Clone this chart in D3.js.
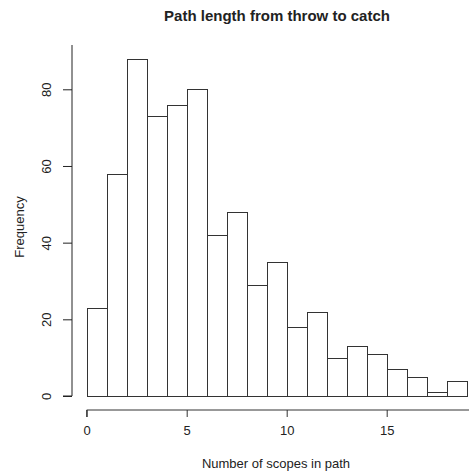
<!DOCTYPE html>
<html>
<head>
<meta charset="utf-8">
<script src="https://cdn.jsdelivr.net/npm/d3@7"></script>
<style>
body { margin: 0; background: #fff; }
text { font-family: "Liberation Sans", Arial, sans-serif; fill: #222; }
</style>
</head>
<body>
<svg></svg>
<script>
var binStarts = [0, 1, 2, 3, 4, 5, 6, 7, 8, 9, 10, 11, 12, 13, 14, 15, 16, 17, 18];
var counts = [23, 58, 88, 73, 76, 80, 42, 48, 29, 35, 18, 22, 10, 13, 11, 7, 5, 1, 4];
var xTicks = [0, 5, 10, 15];
var yTicks = [0, 20, 40, 60, 80];

var svgWidth = 469, svgHeight = 472;

var svg = d3.select('svg')
    .attr("width", svgWidth)
    .attr("height", svgHeight);

var xScale = d3.scaleLinear()
    .domain([0, 19])
    .range([86.7, 466.7]);

var yScale = d3.scaleLinear()
    .domain([0, 80])
    .range([396, 89.3]);

// bars
svg.selectAll('rect.bar')
    .data(counts)
    .enter()
    .append("rect")
    .attr("class", "bar")
    .attr("x", function(d, i){ return Math.round(xScale(binStarts[i])) + 0.5; })
    .attr("width", function(d, i){
        return Math.round(xScale(binStarts[i] + 1)) - Math.round(xScale(binStarts[i]));
    })
    .attr("y", function(d){ return Math.round(yScale(d)) + 0.5; })
    .attr("height", function(d){ return Math.round(yScale(0)) - Math.round(yScale(d)); })
    .attr("fill", "#fff")
    .attr("stroke", "#333")
    .attr("stroke-width", 1);

// x axis
var xAxis = svg.append("g")
    .attr("transform", "translate(0,410)")
    .call(d3.axisBottom(xScale).tickValues(xTicks).tickSize(7).tickPadding(9));
xAxis.select(".domain").attr("d", "M" + xScale(0) + ",7V0H469").attr("stroke", "#333");
xAxis.selectAll(".tick line").attr("stroke", "#333");
xAxis.selectAll("text").attr("font-size", "13px").attr("fill", "#222");

// y axis
var yAxis = svg.append("g")
    .attr("transform", "translate(72,0)")
    .call(d3.axisLeft(yScale).tickValues(yTicks).tickSize(9));
yAxis.select(".domain").attr("d", "M-9," + yScale(0) + "H0V45").attr("stroke", "#222");
yAxis.selectAll(".tick line").attr("stroke", "#222");
yAxis.selectAll(".tick text")
    .attr("x", 0).attr("y", 0)
    .attr("font-size", "13px")
    .attr("fill", "#222")
    .attr("text-anchor", "middle")
    .attr("dy", null)
    .attr("transform", "translate(-24,0) rotate(-90)")
    .attr("dominant-baseline", "middle");

// title and labels
svg.append("text")
    .attr("x", 277).attr("y", 21)
    .attr("text-anchor", "middle")
    .attr("font-size", "15px")
    .attr("font-weight", "bold")
    .attr("fill", "#111")
    .text("Path length from throw to catch");

svg.append("text")
    .attr("x", 276).attr("y", 468)
    .attr("text-anchor", "middle")
    .attr("font-size", "13px")
    .text("Number of scopes in path");

svg.append("text")
    .attr("transform", "translate(24,227) rotate(-90)")
    .attr("text-anchor", "middle")
    .attr("font-size", "13px")
    .text("Frequency");
</script>
</body>
</html>
